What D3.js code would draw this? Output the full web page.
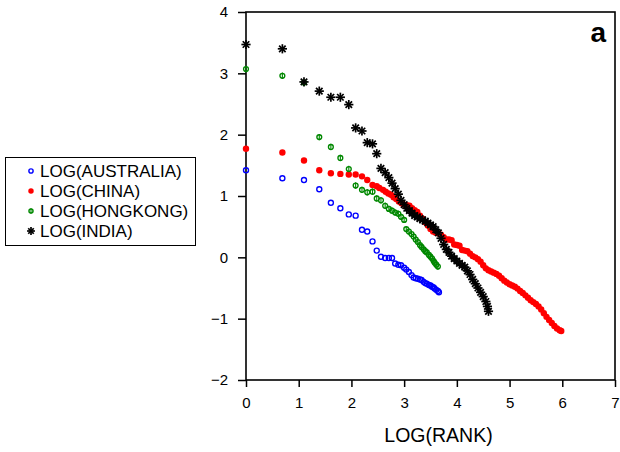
<!DOCTYPE html>
<html>
<head>
<meta charset="utf-8">
<script src="https://cdn.jsdelivr.net/npm/d3@7/dist/d3.min.js"></script>
<style>
  body { margin: 0; background: #fff; }
  svg text { font-family: Arial, 'Liberation Sans', sans-serif; }
</style>
</head>
<body>
<svg id="chart"></svg>
<script>
// data (log of rank vs log of value)
const xTicks = [0, 1, 2, 3, 4, 5, 6, 7];
const yTicks = [-2, -1, 0, 1, 2, 3, 4];
const legendLabels = ['LOG(AUSTRALIA)', 'LOG(CHINA)', 'LOG(HONGKONG)', 'LOG(INDIA)'];

const ausLogRank = [0, 0.69, 1.10, 1.39, 1.61, 1.79, 1.95, 2.08, 2.20, 2.30, 2.40, 2.48, 2.56, 2.64, 2.71,
  2.77, 2.83, 2.89, 2.94, 3.00, 3.04, 3.09, 3.14, 3.18, 3.22, 3.26, 3.30, 3.33, 3.37, 3.40, 3.43,
  3.47, 3.50, 3.53, 3.56, 3.58, 3.61, 3.64, 3.66];
const ausLogValue = [1.42, 1.29, 1.26, 1.11, 0.89, 0.80, 0.70, 0.68, 0.45, 0.42, 0.26, 0.11, 0.01, -0.01, -0.01,
  -0.01, -0.10, -0.12, -0.13, -0.17, -0.20, -0.24, -0.29, -0.33, -0.34, -0.35, -0.36, -0.37, -0.40, -0.42, -0.43,
  -0.45, -0.46, -0.48, -0.49, -0.51, -0.53, -0.55, -0.57];

const chnLogRank = [0, 0.69, 1.10, 1.39, 1.61, 1.79, 1.95, 2.08, 2.20, 2.30, 2.40, 2.48,
  2.53, 2.60, 2.65, 2.70, 2.75, 2.80, 2.85, 2.90, 2.95, 3.00, 3.05, 3.10, 3.15, 3.20, 3.25, 3.30,
  3.35, 3.40, 3.45, 3.50, 3.55, 3.60, 3.65, 3.70, 3.75, 3.80, 3.85, 3.90, 3.95, 4.00, 4.05, 4.10,
  4.15, 4.20, 4.25, 4.30, 4.35, 4.40, 4.45, 4.50, 4.55, 4.60, 4.65, 4.70, 4.75, 4.80, 4.85, 4.90,
  4.95, 5.00, 5.05, 5.10, 5.15, 5.20, 5.25, 5.30, 5.35, 5.40, 5.45, 5.50, 5.55, 5.60, 5.65, 5.70,
  5.75, 5.80, 5.85, 5.90, 5.95, 5.98];
const chnLogValue = [1.77, 1.71, 1.58, 1.42, 1.37, 1.36, 1.35, 1.35, 1.32, 1.26, 1.18, 1.16,
  1.13, 1.10, 1.07, 1.04, 1.02, 0.98, 0.95, 0.91, 0.88, 0.86, 0.85, 0.84, 0.80, 0.77, 0.74, 0.68,
  0.63, 0.57, 0.52, 0.46, 0.42, 0.40, 0.39, 0.37, 0.33, 0.29, 0.29, 0.28, 0.21, 0.20, 0.19, 0.12,
  0.11, 0.10, 0.06, 0.02, 0.00, -0.03, -0.07, -0.13, -0.18, -0.21, -0.23, -0.25, -0.27, -0.30, -0.34, -0.38,
  -0.41, -0.44, -0.46, -0.48, -0.51, -0.55, -0.58, -0.62, -0.66, -0.70, -0.73, -0.76, -0.80, -0.85, -0.91, -0.97,
  -1.02, -1.07, -1.12, -1.16, -1.19, -1.20];

const hkLogRank = [0, 0.69, 1.10, 1.39, 1.61, 1.79, 1.95, 2.08, 2.20, 2.30, 2.40, 2.48, 2.56, 2.64, 2.71,
  2.77, 2.83, 2.89, 2.94, 3.00, 3.04, 3.09, 3.14, 3.18, 3.22, 3.26, 3.30, 3.33, 3.37, 3.40, 3.43,
  3.47, 3.50, 3.53, 3.56, 3.58, 3.61, 3.64];
const hkLogValue = [3.07, 2.96, 2.85, 1.96, 1.80, 1.62, 1.44, 1.17, 1.10, 1.06, 1.07, 0.96, 0.93, 0.84, 0.79,
  0.76, 0.73, 0.71, 0.66, 0.61, 0.46, 0.42, 0.38, 0.34, 0.29, 0.25, 0.20, 0.17, 0.13, 0.10, 0.08,
  0.04, 0.01, -0.02, -0.06, -0.09, -0.12, -0.15];

const indLogRank = [0, 0.69, 1.10, 1.39, 1.61, 1.79, 1.95, 2.08, 2.20, 2.30, 2.40, 2.48, 2.56, 2.64, 2.71,
  2.77, 2.83, 2.89, 2.94, 3.00, 3.05, 3.10, 3.15, 3.20, 3.25, 3.30, 3.35, 3.40, 3.45, 3.50, 3.55,
  3.60, 3.65, 3.70, 3.75, 3.80, 3.85, 3.90, 3.95, 4.00, 4.05, 4.10, 4.15, 4.20, 4.25, 4.30, 4.35,
  4.40, 4.45, 4.50, 4.55, 4.58, 4.60];
const indLogValue = [3.47, 3.40, 2.86, 2.71, 2.61, 2.61, 2.49, 2.11, 2.06, 1.87, 1.85, 1.69, 1.45, 1.38, 1.30,
  1.21, 1.12, 1.03, 0.93, 0.86, 0.80, 0.76, 0.72, 0.68, 0.66, 0.63, 0.61, 0.59, 0.56, 0.53, 0.50,
  0.45, 0.40, 0.31, 0.21, 0.13, 0.08, 0.02, -0.02, -0.06, -0.10, -0.13, -0.16, -0.22, -0.28, -0.36, -0.43,
  -0.50, -0.57, -0.64, -0.72, -0.80, -0.88];

const width = 620;
const height = 452;
const margin = { top: 12, right: 5, bottom: 72, left: 246 };

const svg = d3.select('#chart')
  .attr('width', width)
  .attr('height', height);

const x = d3.scaleLinear().domain([0, 7]).range([margin.left, width - margin.right]);
const y = d3.scaleLinear().domain([-2, 4]).range([height - margin.bottom, margin.top]);

const zip = (xs, ys) => xs.map((v, i) => [v, ys[i]]);

const series = [
  { name: legendLabels[0], points: zip(ausLogRank, ausLogValue), marker: 'openCircle', color: '#0000ff' },
  { name: legendLabels[1], points: zip(chnLogRank, chnLogValue), marker: 'dot', color: '#ff0000' },
  { name: legendLabels[2], points: zip(hkLogRank, hkLogValue), marker: 'phi', color: '#008800' },
  { name: legendLabels[3], points: zip(indLogRank, indLogValue), marker: 'star', color: '#000000' },
];

// draws one marker of given kind into a group
function drawMarker(g, kind, color, k = 1) {
  if (kind === 'openCircle') {
    g.append('circle').attr('r', 2.5 * k).attr('fill', 'none')
      .attr('stroke', color).attr('stroke-width', 1.4);
  } else if (kind === 'dot') {
    g.append('circle').attr('r', 3.2 * k).attr('fill', color);
  } else if (kind === 'phi') {
    g.append('circle').attr('r', 2.4 * k).attr('fill', 'none')
      .attr('stroke', color).attr('stroke-width', 1.4);
    g.append('line').attr('x1', 0).attr('x2', 0).attr('y1', -3.2 * k).attr('y2', 3.2 * k)
      .attr('stroke', color).attr('stroke-width', 1.1);
  } else {
    const r = 4.6 * k;
    d3.range(4).forEach((j) => {
      const a = (j * Math.PI) / 4;
      g.append('line')
        .attr('x1', -r * Math.cos(a)).attr('y1', -r * Math.sin(a))
        .attr('x2', r * Math.cos(a)).attr('y2', r * Math.sin(a))
        .attr('stroke', color).attr('stroke-width', 1.7);
    });
  }
}

// axes
const yAxis = svg.append('g')
  .attr('transform', `translate(${margin.left},0)`)
  .call(d3.axisLeft(y).tickValues(yTicks).tickFormat(d3.format('d'))
    .tickSize(8).tickSizeOuter(0).tickPadding(10));
const xAxis = svg.append('g')
  .attr('transform', `translate(0,${height - margin.bottom})`)
  .call(d3.axisBottom(x).tickValues(xTicks).tickFormat(d3.format('d'))
    .tickSize(7).tickSizeOuter(0).tickPadding(10));

[xAxis, yAxis].forEach((ax) => {
  ax.select('.domain').remove();
  ax.selectAll('.tick line').attr('stroke', '#000').attr('stroke-width', 1.5);
  ax.selectAll('.tick text')
    .attr('fill', '#000')
    .style('font-size', '15px')
    .style('font-family', 'Arial, "Liberation Sans", sans-serif');
});

// frame
svg.append('rect')
  .attr('x', x(0))
  .attr('y', y(4))
  .attr('width', x(7) - x(0))
  .attr('height', y(-2) - y(4))
  .attr('fill', 'none')
  .attr('stroke', '#000')
  .attr('stroke-width', 1.6);

// points
series.forEach((s) => {
  const grp = svg.append('g').attr('class', 'series');
  s.points.forEach((p) => {
    const g = grp.append('g').attr('transform', `translate(${x(p[0])},${y(p[1])})`);
    drawMarker(g, s.marker, s.color);
  });
});

// axis title
svg.append('text')
  .attr('x', (x(0) + x(7)) / 2 + 8)
  .attr('y', 442)
  .attr('text-anchor', 'middle')
  .style('font-size', '19.5px')
  .text('LOG(RANK)');

// panel letter
svg.append('text')
  .attr('x', 606)
  .attr('y', 42)
  .attr('text-anchor', 'end')
  .style('font-size', '28px')
  .style('font-weight', 'bold')
  .text('a');

// legend
const legend = svg.append('g').attr('class', 'legend');
legend.append('rect')
  .attr('x', 5.5).attr('y', 157.5)
  .attr('width', 190).attr('height', 88)
  .attr('fill', '#fff').attr('stroke', '#000').attr('stroke-width', 1);

series.forEach((s, i) => {
  const cy = 171 + i * 20;
  const g = legend.append('g').attr('transform', `translate(31,${cy})`);
  drawMarker(g, s.marker, s.color, 0.85);
  legend.append('text')
    .attr('x', 40)
    .attr('y', cy + 6)
    .style('font-size', '17px')
    .text(s.name);
});
</script>
</body>
</html>
